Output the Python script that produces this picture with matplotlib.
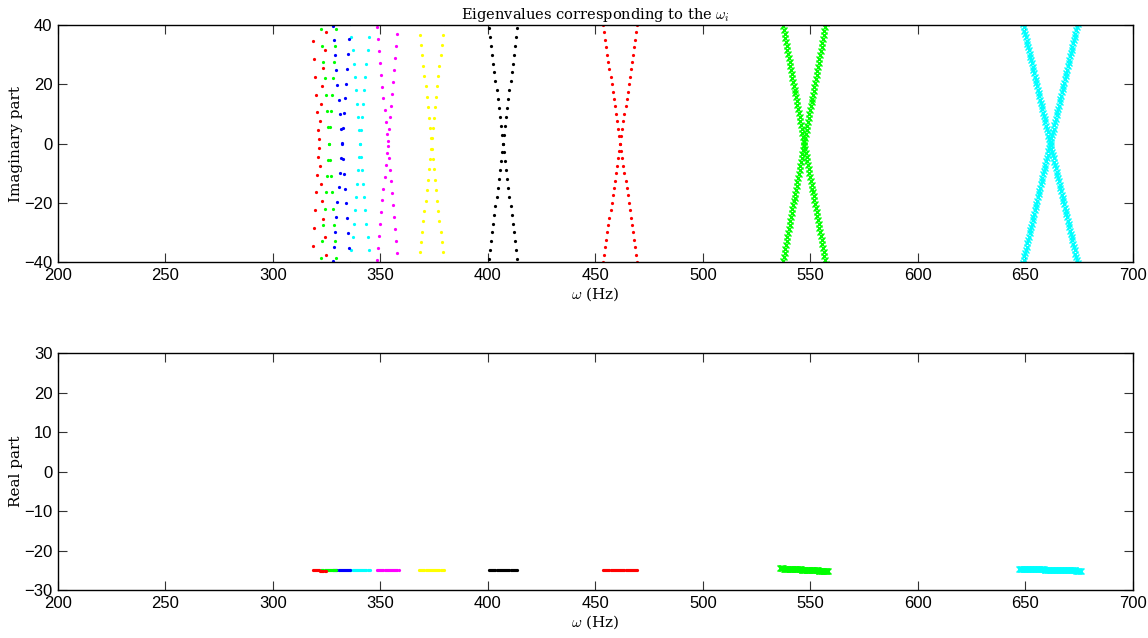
import matplotlib
matplotlib.use('Agg')
import matplotlib.pyplot as plt
import numpy as np

plt.rcParams.update({
    'font.family': 'Liberation Sans',
    'font.size': 12,
    'mathtext.fontset': 'cm',
    'axes.linewidth': 1.0,
    'xtick.direction': 'in',
    'ytick.direction': 'in',
    'xtick.top': True,
    'ytick.right': True,
    'xtick.major.size': 6.5,
    'ytick.major.size': 6.5,
    'xtick.major.pad': 4,
    'ytick.major.pad': 4,
})

SERIF = 'DejaVu Serif'

# one entry per eigenvalue pair (mode)
mode_center = [321.375, 326.0, 331.98, 340.5, 353.3, 373.7, 407.0, 461.5, 547.1, 661.5]   # Hz, where Im = 0
mode_slope  = [12.0, 11.0, 10.0, 9.0, 8.0, 7.0, 6.0, 5.0, 4.05, 3.16]                     # |Im| per Hz
omega_lo    = [318.5, 322.5, 328.0, 336.0, 348.4, 367.95, 400.5, 453.5, 536.0, 647.0]
omega_hi    = [324.5, 329.5, 336.0, 345.0, 358.4, 379.45, 413.5, 469.5, 558.2, 676.0]
omega_step  = [0.5, 0.5, 0.5, 0.5, 0.5, 0.5, 0.5, 0.5, 0.33, 0.35]
real_lo     = [-25.0, -25.0, -25.0, -25.0, -25.0, -25.0, -25.0, -24.9, -24.5, -24.6]
real_hi     = [-25.1, -25.0, -25.0, -25.0, -25.0, -25.0, -25.0, -25.0, -25.2, -25.1]
mode_color  = ['#ff0000', '#00ff00', '#0000ff', '#00ffff', '#ff00ff',
               '#ffff00', '#000000', '#ff0000', '#00ff00', '#00ffff']
mode_marker = ['o', 'o', 'o', 'o', 'o', 'o', 'o', 'o', 'x', 'x']

imag_ticks = [-40, -20, 0, 20, 40]
real_ticks = [-30, -20, -10, 0, 10, 20, 30]
omega_ticks = [200, 250, 300, 350, 400, 450, 500, 550, 600, 650, 700]

fig = plt.figure(figsize=(11.48, 6.38), dpi=100)
ax1 = fig.add_axes([0.0505, 0.5893, 0.9364, 0.3715])
ax2 = fig.add_axes([0.0505, 0.0752, 0.9364, 0.3715])

# later modes first so the low-frequency ones end up on top
for i in reversed(range(len(mode_center))):
    w = np.arange(omega_lo[i], omega_hi[i] + 1e-6, omega_step[i])
    im = mode_slope[i] * (w - mode_center[i])
    re = np.interp(w, [omega_lo[i], omega_hi[i]], [real_lo[i], real_hi[i]])
    if mode_marker[i] == 'x':
        kw = dict(ls='none', marker='x', ms=3.8, mew=1.0, color=mode_color[i])
    else:
        kw = dict(ls='none', marker='o', ms=2.3, mew=0, color=mode_color[i])
    ax1.plot(w, im, **kw)
    ax1.plot(w, -im, **kw)
    ax2.plot(w, re, **kw)

ax1.set_xlim(200, 700)
ax1.set_ylim(-40, 40)
ax1.set_yticks(imag_ticks)
ax1.set_xticks(omega_ticks)
ax1.set_ylabel('Imaginary part', family=SERIF, fontsize=11, labelpad=1)
ax1.set_xlabel(r'$\omega$ (Hz)', family=SERIF, fontsize=11, labelpad=2)
ax1.set_title(r'Eigenvalues corresponding to the $\omega_i$', family=SERIF,
              fontsize=10.5, pad=4)

ax2.set_xlim(200, 700)
ax2.set_ylim(-30, 30)
ax2.set_yticks(real_ticks)
ax2.set_xticks(omega_ticks)
ax2.set_ylabel('Real part', family=SERIF, fontsize=11, labelpad=1)
ax2.set_xlabel(r'$\omega$ (Hz)', family=SERIF, fontsize=11, labelpad=2)

for ax in (ax1, ax2):
    ax.tick_params(color='#333333', width=0.8)

fig.savefig('out.png', dpi=100)
